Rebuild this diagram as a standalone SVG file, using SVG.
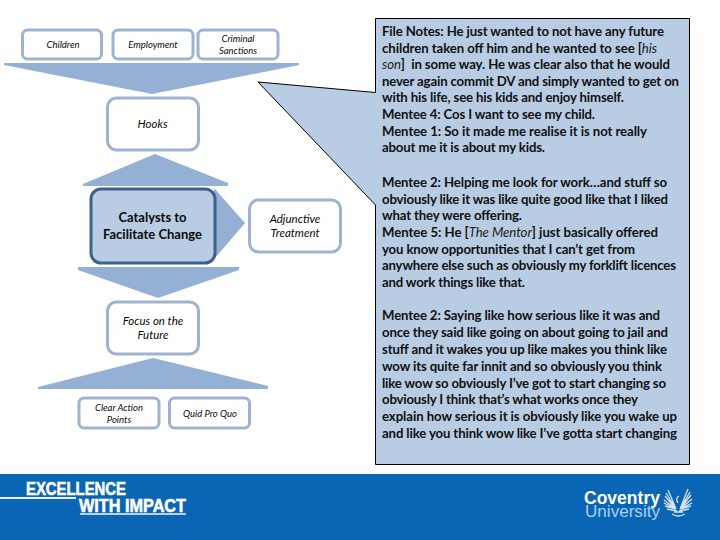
<svg xmlns="http://www.w3.org/2000/svg" width="720" height="540" viewBox="0 0 720 540">
<style>
.box{fill:#fff;stroke:#9eb3d0;stroke-width:3}
.arrow{fill:#94b0d5}
text{font-family:Lato,"Liberation Sans",sans-serif;fill:#0a0a0a}
.lab{font-style:italic;text-anchor:middle}
.sm{font-size:9.5px}
.md{font-size:11.5px}
.note{font-size:13.2px;font-weight:700;fill:#111}
.note tspan{font-style:italic;font-weight:400;fill:#1c1c1c}
.foot{font-family:"Liberation Sans",sans-serif;font-weight:700;font-size:18.500px;fill:#fff;stroke:#fff;stroke-width:.6}
</style>
<rect width="720" height="540" fill="#fff"/>
<g id="connectors">
<polygon class="arrow" points="4,63 299,63 299,65 152,94 4,65"/>
<polygon class="arrow" points="155,154 228,183 228,186 83,186 83,184"/>
<polygon class="arrow" points="214,188 245,223 215,258"/>
<polygon class="arrow" points="78,267 239,267 239,270 158,298 78,270"/>
<polygon class="arrow" points="153,358 268,386 268,389 38,389 38,387"/>
</g>
<g id="children"><rect class="box" x="22.500" y="30" width="79" height="29" rx="5"/><text class="lab sm" x="63" y="48">Children</text></g>
<g id="employment"><rect class="box" x="113" y="30" width="80" height="29" rx="5"/><text class="lab sm" x="153" y="48">Employment</text></g>
<g id="criminal-sanctions"><rect class="box" x="198" y="30" width="80" height="29" rx="5"/><text class="lab sm" x="238" y="42">Criminal</text><text class="lab sm" x="238" y="54">Sanctions</text></g>
<g id="hooks"><rect class="box" x="107.500" y="98" width="91" height="52" rx="9"/><text class="lab md" x="152.500" y="128">Hooks</text></g>
<g id="catalysts"><rect x="91" y="189" width="124" height="74" rx="10" fill="#b8cce4" stroke="#3f5f8c" stroke-width="3"/><text x="152.500" y="222" text-anchor="middle" font-size="13px" font-weight="700">Catalysts to</text><text x="152.500" y="239" text-anchor="middle" font-size="13px" font-weight="700">Facilitate Change</text></g>
<g id="adjunctive-treatment"><rect class="box" x="249.500" y="200" width="91" height="52" rx="9"/><text class="lab md" x="295" y="223">Adjunctive</text><text class="lab md" x="295" y="237">Treatment</text></g>
<g id="focus-on-the-future"><rect class="box" x="107.500" y="302" width="91" height="52" rx="9"/><text class="lab md" x="153" y="325">Focus on the</text><text class="lab md" x="153" y="339">Future</text></g>
<g id="clear-action-points"><rect class="box" x="79" y="398" width="80" height="30" rx="5"/><text class="lab sm" x="119" y="411">Clear Action</text><text class="lab sm" x="119" y="423">Points</text></g>
<g id="quid-pro-quo"><rect class="box" x="169.500" y="398" width="80" height="30" rx="5"/><text class="lab sm" x="210" y="417">Quid Pro Quo</text></g>
<g id="callout">
<path d="M375.500 18.500H689.500V464.500H375.500V205L258 82L375.500 92.500Z" fill="#b8cce4" stroke="#000" stroke-width="1"/>
<text class="note" x="382" y="36" textLength="282">File Notes: He just wanted to not have any future</text>
<text class="note" x="382" y="52.600" textLength="275">children taken off him and he wanted to see [<tspan>his</tspan></text>
<text class="note" x="382" y="69.200" textLength="288" xml:space="preserve"><tspan>son</tspan>]  in some way. He was clear also that he would</text>
<text class="note" x="382" y="85.800" textLength="297">never again commit DV and simply wanted to get on</text>
<text class="note" x="382" y="102.400" textLength="242">with his life, see his kids and enjoy himself.</text>
<text class="note" x="382" y="119" textLength="213">Mentee 4: Cos I want to see my child.</text>
<text class="note" x="382" y="135.600" textLength="265">Mentee 1: So it made me realise it is not really</text>
<text class="note" x="382" y="152.200" textLength="163">about me it is about my kids.</text>
<text class="note" x="382" y="187" textLength="285">Mentee 2: Helping me look for work…and stuff so</text>
<text class="note" x="382" y="203.700" textLength="286">obviously like it was like quite good like that I liked</text>
<text class="note" x="382" y="220.400" textLength="140">what they were offering.</text>
<text class="note" x="382" y="237" textLength="276">Mentee 5: He [<tspan>The Mentor</tspan>] just basically offered</text>
<text class="note" x="382" y="253.700" textLength="253">you know opportunities that I can’t get from</text>
<text class="note" x="382" y="270.400" textLength="294">anywhere else such as obviously my forklift licences</text>
<text class="note" x="382" y="287" textLength="143">and work things like that.</text>
<text class="note" x="382" y="320" textLength="278">Mentee 2: Saying like how serious like it was and</text>
<text class="note" x="382" y="336.900" textLength="286">once they said like going on about going to jail and</text>
<text class="note" x="382" y="353.800" textLength="285">stuff and it wakes you up like makes you think like</text>
<text class="note" x="382" y="370.600" textLength="280">wow its quite far innit and so obviously you think</text>
<text class="note" x="382" y="387.500" textLength="284">like wow so obviously I’ve got to start changing so</text>
<text class="note" x="382" y="404.300" textLength="256">obviously I think that’s what works once they</text>
<text class="note" x="382" y="421.200" textLength="295">explain how serious it is obviously like you wake up</text>
<text class="note" x="382" y="438" textLength="295">and like you think wow like I’ve gotta start changing</text>
</g>
<g id="footer">
<rect y="474" width="720" height="66" fill="#0a66b4"/>
<rect y="497" width="76" height="2" fill="#e8eef6"/>
<rect x="80" y="513" width="106" height="2" fill="#b9d2ea"/>
<text class="foot" x="26" y="494.500" textLength="100" lengthAdjust="spacingAndGlyphs">EXCELLENCE</text>
<text class="foot" x="79" y="511.500" textLength="107" lengthAdjust="spacingAndGlyphs">WITH IMPACT</text>
<text x="584" y="504" font-size="19px" font-weight="700" style="fill:#fff;font-family:'Liberation Sans'" textLength="76" lengthAdjust="spacingAndGlyphs">Coventry</text>
<text x="585" y="516.500" font-size="16px" style="fill:#a9d0f0;font-family:'Liberation Sans'" textLength="75" lengthAdjust="spacingAndGlyphs">University</text>
<g fill="none" stroke="#d5e5f4" stroke-width="1.300">
<path d="M676 509L668 490M676 509L666 493M676 509L665 496M676 509L664 500M676 509L664 503M676 509L665 506M677 511L667 509"/>
<path d="M680 509L688 489M680 509L690 492M680 509L691 495M680 509L692 499M680 509L692 503M680 509L691 506M679 511L689 509"/>
<path d="M678 503Q675 498 679 496M672 514Q678 518 685 514M674 512L683 512"/>
</g>
</g>
</svg>
